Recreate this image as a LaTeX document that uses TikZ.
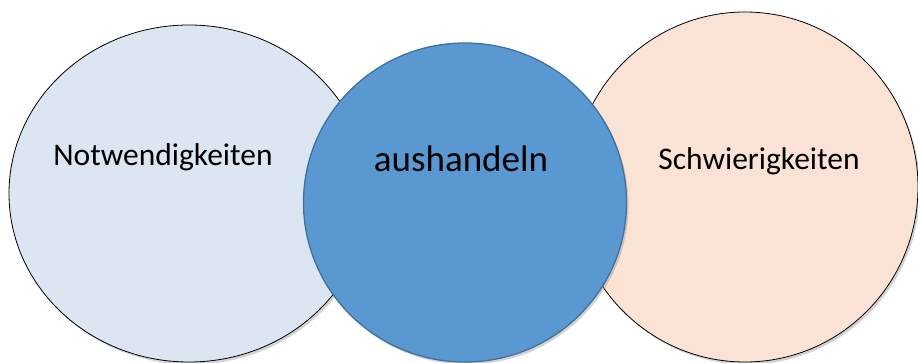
\documentclass[tikz,border=0pt]{standalone}
\usepackage{fontspec}
\setmainfont{Carlito}
\usetikzlibrary{shapes.geometric,shadows}
\definecolor{needblue}{HTML}{DCE6F2}
\definecolor{dealblue}{HTML}{5A98D2}
\definecolor{dealedge}{HTML}{41719C}
\definecolor{hardpeach}{HTML}{FAE3D5}
\tikzstyle{bubble}=[ellipse,inner sep=0pt,drop shadow={shadow xshift=2pt,shadow yshift=-2.5pt,opacity=0.35}]
\tikzstyle{side bubble}=[bubble,draw=black,line width=0.8pt]
\tikzstyle{deal bubble}=[bubble,draw=dealedge,line width=1.3pt,fill=dealblue]
\tikzstyle{side text}=[anchor=base,inner sep=0pt,font=\fontsize{31.5}{36}\selectfont]
\tikzstyle{deal text}=[anchor=base,inner sep=0pt,font=\fontsize{37}{43}\selectfont]

\begin{document}
\begin{tikzpicture}[x=1pt,y=-1pt]
    \useasboundingbox (0,0) rectangle (918,363);

    % the two outer bubbles first, the middle one lies on top
    \node[side bubble, fill=needblue, minimum width=360pt, minimum height=337pt] (need) at (189,193.5) {};
    \node[side bubble, fill=hardpeach, minimum width=346pt, minimum height=350pt] (hard) at (745,187) {};
    \node[deal bubble, minimum width=323pt, minimum height=319pt] (deal) at (465,202.5) {};

    \node[side text] (needtext) at (163,166) {Notwendigkeiten};
    \node[deal text] (dealtext) at (461,172) {aushandeln};
    \node[side text] (hardtext) at (759,170) {Schwierigkeiten};
\end{tikzpicture}
\end{document}
